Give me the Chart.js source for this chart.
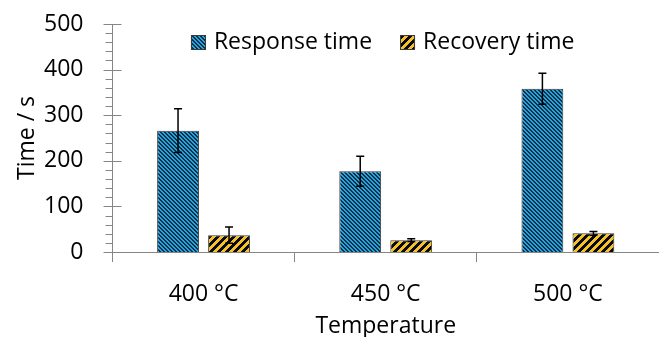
<!DOCTYPE html>
<html lang="en">
<head>
  <meta charset="UTF-8">
  <title>Response and recovery time</title>
  <script src="https://cdn.jsdelivr.net/npm/chart.js"></script>
  <style>
    body { margin: 0; background: #fff; }
    #wrap { width: 659px; height: 337px; }
  </style>
</head>
<body>
  <div id="wrap"><canvas id="chart" width="659" height="337"></canvas></div>

  <script>
    const categories = ['400 °C', '450 °C', '500 °C'];
    const responseTime = [266, 177, 358];
    const responseErr = [48, 33, 34];
    const recoveryTime = [37, 26, 41];
    const recoveryErr = [18, 3, 4];
    const yTicks = [0, 100, 200, 300, 400, 500];

    const axisGray = '#868686';
    const fontFamily = "'Open Sans', sans-serif";
    const fontSize = 23;

    // striped fills like the office hatch patterns
    function stripes(size, period, bg, fg, rising) {
      const c = document.createElement('canvas');
      c.width = size; c.height = size;
      const g = c.getContext('2d');
      const img = g.createImageData(size, size);
      const hex = s => [1, 3, 5].map(i => parseInt(s.substr(i, 2), 16));
      const a = hex(bg), b = hex(fg);
      for (let y = 0; y < size; y++) {
        for (let x = 0; x < size; x++) {
          const k = rising ? (x + y) : (x - y + size * 4);
          const col = (k % period) < period / 2 ? b : a;
          const p = (y * size + x) * 4;
          img.data[p] = col[0]; img.data[p + 1] = col[1]; img.data[p + 2] = col[2]; img.data[p + 3] = 255;
        }
      }
      g.putImageData(img, 0, 0);
      return g.createPattern(c, 'repeat');
    }

    const bluePattern = stripes(8, 4, '#22a5e0', '#0e3047', false);
    const yellowPattern = stripes(8, 8, '#0a0a0a', '#f4c02c', true);

    const errorBars = {
      id: 'errorBars',
      afterDatasetsDraw(chart) {
        const ctx = chart.ctx;
        const y = chart.scales.y;
        chart.data.datasets.forEach((ds, i) => {
          const meta = chart.getDatasetMeta(i);
          meta.data.forEach((bar, j) => {
            const v = ds.data[j], e = ds.errors[j];
            const top = y.getPixelForValue(v + e);
            const bot = y.getPixelForValue(v - e);
            ctx.save();
            ctx.strokeStyle = '#000';
            ctx.lineWidth = 1.5;
            ctx.beginPath();
            ctx.moveTo(bar.x, top); ctx.lineTo(bar.x, bot);
            ctx.moveTo(bar.x - 4, top); ctx.lineTo(bar.x + 4, top);
            ctx.moveTo(bar.x - 4, bot); ctx.lineTo(bar.x + 4, bot);
            ctx.stroke();
            ctx.restore();
          });
        });
      }
    };

    // minor ticks on the value axis, majors crossing the line
    const axisTicks = {
      id: 'axisTicks',
      afterDraw(chart) {
        const ctx = chart.ctx;
        const y = chart.scales.y;
        const x0 = Math.round(chart.chartArea.left) + 0.5;
        ctx.save();
        ctx.strokeStyle = axisGray;
        ctx.lineWidth = 1;
        for (let v = y.min; v <= y.max; v += 20) {
          const py = Math.round(y.getPixelForValue(v)) + 0.5;
          const major = yTicks.includes(v);
          ctx.beginPath();
          ctx.moveTo(x0 - (major ? 9 : 7), py);
          ctx.lineTo(x0 + (major ? 9 : 0), py);
          ctx.stroke();
        }
        ctx.restore();
      }
    };

    // legend drawn in one row inside the plot, near the top
    const innerLegend = {
      id: 'innerLegend',
      afterDraw(chart) {
        const ctx = chart.ctx;
        const area = chart.chartArea;
        const box = 15, gap = 8, between = 28;
        ctx.save();
        ctx.font = fontSize + 'px ' + fontFamily;
        const items = chart.data.datasets.map(ds => ({ ds, w: ctx.measureText(ds.label).width }));
        const total = items.reduce((s, it) => s + box + gap + it.w, 0) + between * (items.length - 1);
        let x = (area.left + area.right) / 2 - total / 2 - 3;
        const cy = area.top + 18.5;
        items.forEach(it => {
          ctx.fillStyle = it.ds.backgroundColor;
          ctx.fillRect(x, cy - box / 2, box, box);
          ctx.strokeStyle = it.ds.borderColor;
          ctx.lineWidth = 1;
          ctx.strokeRect(Math.round(x) + 0.5, Math.round(cy - box / 2) + 0.5, box - 1, box - 1);
          ctx.fillStyle = '#000';
          ctx.textBaseline = 'middle';
          ctx.textAlign = 'left';
          ctx.fillText(it.ds.label, x + box + gap, cy);
          x += box + gap + it.w + between;
        });
        ctx.restore();
      }
    };

    new Chart(document.getElementById('chart'), {
      type: 'bar',
      data: {
        labels: categories,
        datasets: [
          {
            label: 'Response time',
            data: responseTime,
            errors: responseErr,
            backgroundColor: bluePattern,
            borderColor: '#3a3a3a',
            borderWidth: 1
          },
          {
            label: 'Recovery time',
            data: recoveryTime,
            errors: recoveryErr,
            backgroundColor: yellowPattern,
            borderColor: '#3a3a3a',
            borderWidth: 1
          }
        ]
      },
      options: {
        responsive: false,
        animation: false,
        layout: { padding: { top: 24, right: 0, left: 16, bottom: -1 } },
        datasets: {
          bar: { categoryPercentage: 0.56, barPercentage: 0.82 }
        },
        plugins: {
          legend: { display: false },
          tooltip: { enabled: false }
        },
        scales: {
          x: {
            offset: true,
            border: { color: axisGray, width: 1 },
            grid: { offset: true, drawOnChartArea: false, tickLength: 10, color: axisGray },
            ticks: { color: '#000', padding: 21, font: { family: fontFamily, size: fontSize, lineHeight: 1 } },
            title: {
              display: true,
              text: 'Temperature',
              color: '#000',
              padding: { top: -12, bottom: 0 },
              font: { family: fontFamily, size: fontSize, lineHeight: 1 }
            }
          },
          y: {
            min: 0,
            max: 500,
            border: { color: axisGray, width: 1 },
            grid: { display: false },
            ticks: {
              stepSize: 100,
              color: '#000',
              padding: 21,
              // small line height keeps the label from pushing the plot top down
              font: { family: fontFamily, size: fontSize, lineHeight: 0.2 }
            },
            afterBuildTicks(scale) {
              scale.ticks = yTicks.map(v => ({ value: v }));
            },
            title: {
              display: true,
              text: 'Time / s',
              color: '#000',
              padding: { top: 0, bottom: -16 },
              font: { family: fontFamily, size: fontSize, lineHeight: 1 }
            }
          }
        }
      },
      plugins: [errorBars, axisTicks, innerLegend]
    });
  </script>
</body>
</html>
